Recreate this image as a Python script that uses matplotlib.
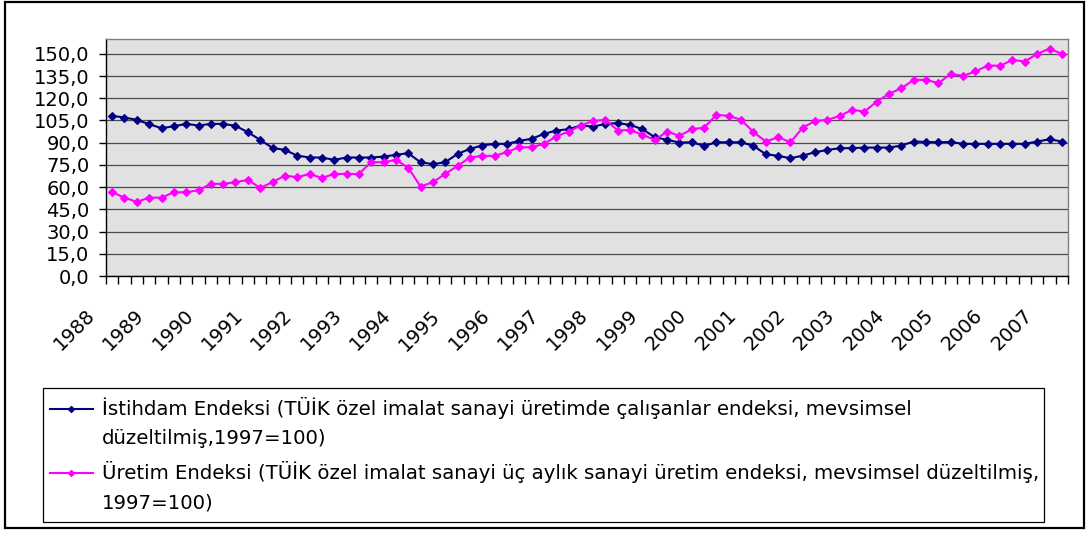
import numpy as np
import matplotlib
matplotlib.use("Agg")
import matplotlib.pyplot as plt
import matplotlib.transforms as mtransforms
from matplotlib.legend_handler import HandlerLine2D
from matplotlib.patches import Rectangle
from matplotlib.ticker import FixedLocator, FuncFormatter

plt.rcParams['font.family'] = ['DejaVu Sans']
plt.rcParams['font.size'] = 14

# ---------------- data (quarterly, 1988Q1 - 2007Q2) ----------------
years = ['1988', '1989', '1990', '1991', '1992', '1993', '1994', '1995', '1996', '1997',
         '1998', '1999', '2000', '2001', '2002', '2003', '2004', '2005', '2006', '2007']

employment = [108.1, 107.0, 105.4, 102.5, 99.8, 101.1, 102.7, 101.6, 102.7, 102.7,
              101.4, 97.1, 91.9, 86.5, 85.1, 81.3, 80.0, 80.0, 78.4, 80.0,
              80.0, 80.0, 80.6, 81.8, 82.9, 76.8, 75.5, 76.8, 82.4, 85.8,
              88.1, 89.2, 89.2, 91.2, 92.6, 95.9, 98.2, 99.1, 101.6, 100.9,
              102.7, 103.2, 102.0, 99.1, 93.7, 91.9, 90.1, 90.3, 87.8, 90.3,
              90.3, 90.3, 87.8, 82.2, 81.1, 79.5, 81.3, 83.6, 85.1, 86.3,
              86.3, 86.7, 86.7, 86.7, 88.1, 90.8, 90.5, 90.3, 90.5, 89.2,
              89.2, 89.2, 89.2, 89.2, 89.2, 90.8, 92.3, 90.8]

production = [56.5, 52.9, 50.0, 52.9, 52.9, 56.5, 56.5, 57.9, 62.2, 62.2,
              63.3, 64.9, 59.5, 63.3, 67.8, 66.7, 68.9, 66.2, 68.9, 68.9,
              68.9, 76.8, 76.8, 78.4, 73.2, 60.4, 63.3, 68.9, 74.3, 80.0,
              81.1, 81.1, 83.6, 86.9, 86.9, 89.2, 94.1, 97.5, 101.6, 104.7,
              105.4, 98.2, 98.6, 95.3, 91.9, 97.5, 94.6, 99.1, 100.2, 108.8,
              108.1, 105.4, 97.1, 90.8, 93.7, 90.3, 100.2, 104.7, 105.4, 108.1,
              112.2, 111.0, 117.8, 123.0, 126.8, 132.4, 132.4, 130.2, 136.5, 135.1,
              138.1, 142.1, 141.9, 145.9, 144.8, 150.0, 153.4, 150.0]

y_ticks = [0, 15, 30, 45, 60, 75, 90, 105, 120, 135, 150]

label_emp = ("İstihdam Endeksi (TÜİK özel imalat sanayi üretimde çalışanlar endeksi, mevsimsel\n"
             "düzeltilmiş,1997=100)")
label_prod = ("Üretim Endeksi (TÜİK özel imalat sanayi üç aylık sanayi üretim endeksi, mevsimsel düzeltilmiş,\n"
              "1997=100)")

# ---------------- figure ----------------
W, H = 1089, 533
fig = plt.figure(figsize=(W / 100, H / 100), dpi=100)
fig.patch.set_facecolor('white')

ax = fig.add_axes([106 / W, 1 - 276 / H, (1068 - 106) / W, (276 - 39) / H])
ax.set_facecolor('#E1E1E1')

x = np.arange(len(employment))
l1, = ax.plot(x, employment, color='#000080', lw=1.5, marker='D', ms=3.7, mew=0.8,
              mfc='#000080', mec='#000080', zorder=3)
l2, = ax.plot(x, production, color='#FF00FF', lw=1.5, marker='D', ms=4.3, mew=0.8,
              mfc='#FF00FF', mec='#FF00FF', zorder=3)

ax.set_xlim(-0.5, len(x) - 0.5)
ax.set_ylim(0, 160)

ax.yaxis.set_major_locator(FixedLocator(y_ticks))
ax.yaxis.set_major_formatter(FuncFormatter(lambda v, p: f"{v:.1f}".replace('.', ',')))
ax.grid(axis='y', color='#4a4a4a', lw=0.9)
ax.set_axisbelow(True)

ax.set_xticks(np.arange(0, len(x), 4))
ax.set_xticklabels(years, rotation=45, ha='right', va='top', rotation_mode='anchor')
ax.set_xticks(np.arange(-0.5, len(x)), minor=True)
ax.tick_params(axis='x', which='major', length=0, pad=21.5)
ax.tick_params(axis='x', which='minor', length=5.5, width=1, color='black', direction='out')
ax.tick_params(axis='y', length=5, width=1, pad=7, color='black', direction='out')

offset = mtransforms.ScaledTranslation(-27 / 100, 0, fig.dpi_scale_trans)
for lab in ax.get_xticklabels():
    lab.set_transform(lab.get_transform() + offset)

for sp in ['left', 'bottom']:
    ax.spines[sp].set_color('black')
    ax.spines[sp].set_linewidth(1.0)
for sp in ['top', 'right']:
    ax.spines[sp].set_color('#808080')
    ax.spines[sp].set_linewidth(1.0)


# ---------------- legend ----------------
class ShiftedLine(HandlerLine2D):
    def __init__(self, shift, ms, **kw):
        super().__init__(**kw)
        self.shift = shift
        self.ms = ms

    def create_artists(self, legend, orig_handle, xdescent, ydescent,
                       width, height, fontsize, trans):
        arts = super().create_artists(legend, orig_handle, xdescent, ydescent,
                                      width, height, fontsize, trans)
        for a in arts:
            a.set_ydata(np.asarray(a.get_ydata()) + self.shift)
            a.set_markersize(self.ms)
        return arts


LEG_FS = 14.2
LS = 1.66
leg = fig.legend(handles=[l1, l2], labels=[label_emp, label_prod],
                 loc='upper left', bbox_to_anchor=(50 / W, 1 - 397 / H),
                 frameon=False, borderpad=0, borderaxespad=0,
                 fontsize=LEG_FS,
                 handlelength=2.18, handletextpad=0.46, labelspacing=0.68,
                 numpoints=1,
                 handler_map={l1: ShiftedLine(10.4, 3.2), l2: ShiftedLine(10.4, 3.2)})
for t in leg.get_texts():
    t.set_linespacing(LS)

fig.patches.append(Rectangle((43 / W, 1 - 522 / H), (1044 - 43) / W, (522 - 388) / H,
                             transform=fig.transFigure, fill=False,
                             edgecolor='black', lw=0.9))
fig.patches.append(Rectangle((5 / W, 1 - 528 / H), 1079 / W, 526 / H,
                             transform=fig.transFigure, fill=False,
                             edgecolor='black', lw=1.6))

fig.savefig('out.png', dpi=100)
